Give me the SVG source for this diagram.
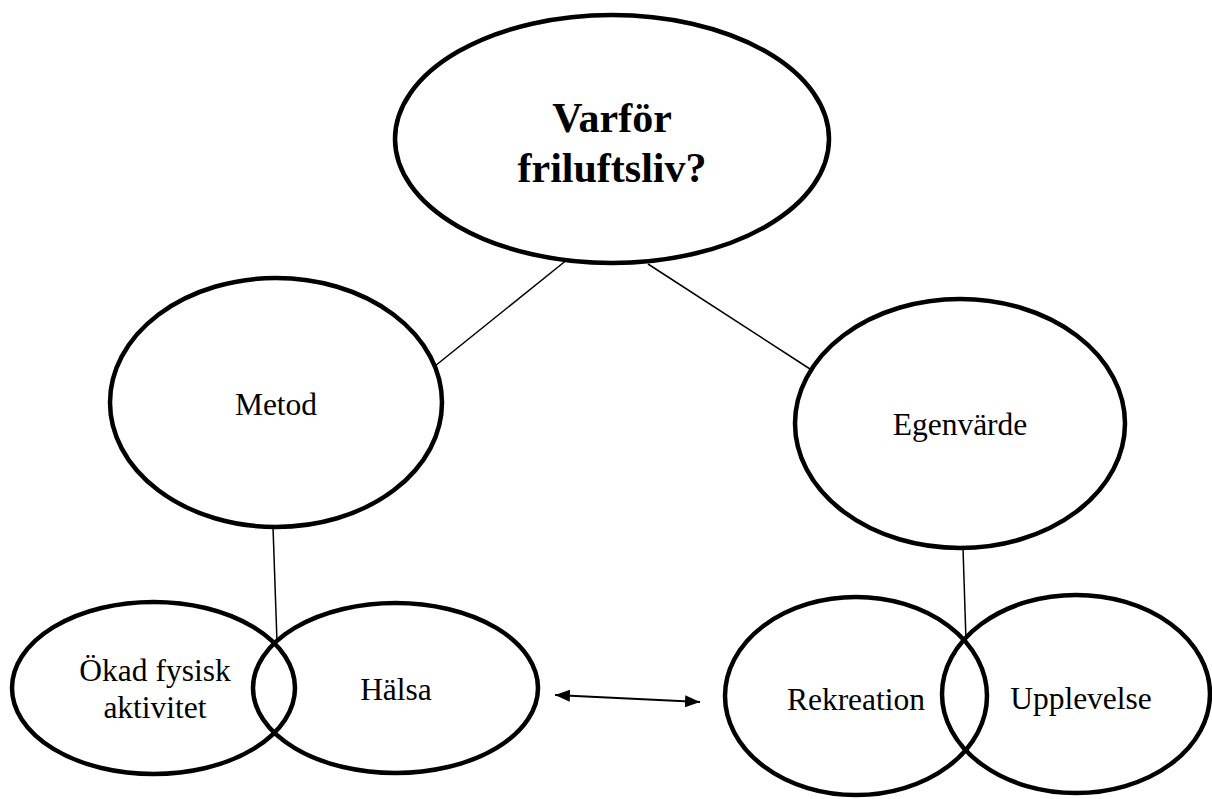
<svg xmlns="http://www.w3.org/2000/svg" width="1212" height="799" viewBox="0 0 1212 799">
<defs>
<style>
.node ellipse{fill:#ffffff;stroke:#000000;stroke-width:4.5}
.lbl{font-family:"Liberation Serif","Times New Roman",serif;font-size:31.5px;fill:#000000;text-anchor:middle}
.title{font-family:"Liberation Serif","Times New Roman",serif;font-size:42px;font-weight:bold;fill:#000000;text-anchor:middle}
.conn{stroke:#000000;stroke-width:1.5;fill:none}
.arr{stroke:#000000;stroke-width:2;fill:none}
</style>
<marker id="ah" viewBox="0 0 15 12" refX="15" refY="6" markerWidth="15" markerHeight="12" markerUnits="userSpaceOnUse" orient="auto-start-reverse">
<path d="M0,0 L15,6 L0,12 Z" fill="#000000"/>
</marker>
</defs>
<rect x="0" y="0" width="1212" height="799" fill="#ffffff"/>
<g id="connectors">
<line class="conn" x1="568" y1="259" x2="435" y2="366"/>
<line class="conn" x1="648" y1="264" x2="810" y2="369"/>
<line class="conn" x1="273" y1="527" x2="277" y2="642"/>
<line class="conn" x1="963" y1="548" x2="966" y2="641"/>
<line class="arr" x1="555" y1="695" x2="700" y2="702" marker-start="url(#ah)" marker-end="url(#ah)"/>
</g>
<g id="node-varfor" class="node">
<ellipse cx="612" cy="139" rx="217" ry="124"/>
<text class="title" x="612" y="132">Varför</text>
<text class="title" x="612" y="182">friluftsliv?</text>
</g>
<g id="node-metod" class="node">
<ellipse cx="276" cy="402.5" rx="166" ry="124.5"/>
<text class="lbl" x="276" y="415">Metod</text>
</g>
<g id="node-egenvarde" class="node">
<ellipse cx="960" cy="423.5" rx="165" ry="124.5"/>
<text class="lbl" x="960" y="435">Egenvärde</text>
</g>
<g id="node-okad" class="node">
<ellipse cx="153.5" cy="688" rx="141.5" ry="86" fill="none" style="fill:none"/>
<text class="lbl" x="155" y="681">Ökad fysisk</text>
<text class="lbl" x="155" y="718">aktivitet</text>
</g>
<g id="node-halsa" class="node">
<ellipse cx="395.5" cy="688" rx="142.5" ry="85" style="fill:none"/>
<text class="lbl" x="396" y="700">Hälsa</text>
</g>
<g id="node-rekreation" class="node">
<ellipse cx="856" cy="696" rx="131" ry="99" style="fill:none"/>
<text class="lbl" x="856" y="710">Rekreation</text>
</g>
<g id="node-upplevelse" class="node">
<ellipse cx="1076" cy="694" rx="134" ry="99" style="fill:none"/>
<text class="lbl" x="1081" y="709">Upplevelse</text>
</g>
</svg>
